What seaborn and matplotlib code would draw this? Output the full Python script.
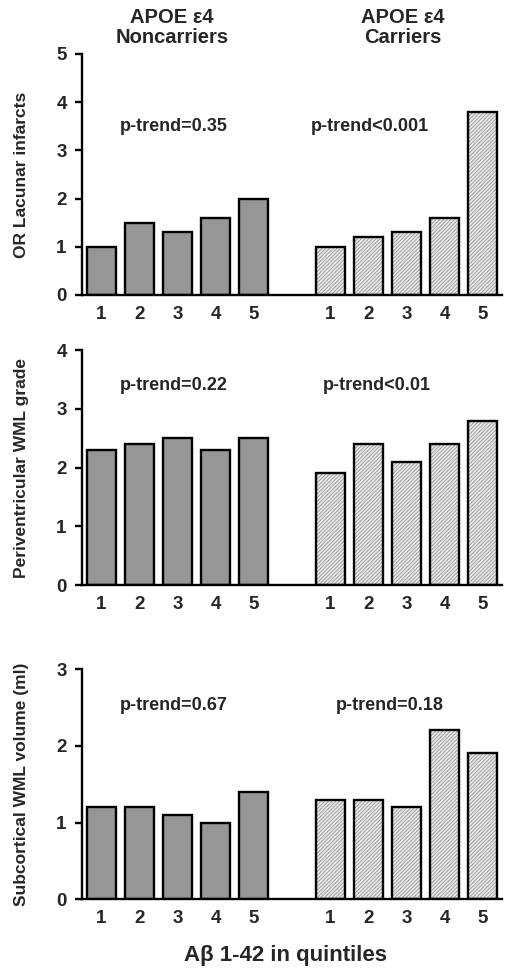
import matplotlib
matplotlib.use("Agg")
import matplotlib.pyplot as plt
import seaborn as sns
import pandas as pd

quintiles = ["1", "2", "3", "4", "5"]
groups = ["Noncarriers", "Carriers"]

lacunar_non = [1.0, 1.5, 1.3, 1.6, 2.0]
lacunar_car = [1.0, 1.2, 1.3, 1.6, 3.8]
pv_non = [2.3, 2.4, 2.5, 2.3, 2.5]
pv_car = [1.9, 2.4, 2.1, 2.4, 2.8]
sc_non = [1.2, 1.2, 1.1, 1.0, 1.4]
sc_car = [1.3, 1.3, 1.2, 2.2, 1.9]

ylabels = ["OR Lacunar infarcts", "Periventricular WML grade", "Subcortical WML volume (ml)"]
ymaxes = [5, 4, 3]
ptexts = [("p-trend=0.35", "p-trend<0.001"),
          ("p-trend=0.22", "p-trend<0.01"),
          ("p-trend=0.67", "p-trend=0.18")]
titles = ["APOE \u03b54\nNoncarriers", "APOE \u03b54\nCarriers"]
xlabel = "A\u03b2 1-42 in quintiles"

sns.set_style("white")
plt.rcParams['font.family'] = ['Liberation Sans', 'DejaVu Sans']
plt.rcParams['font.weight'] = 'bold'
plt.rcParams['hatch.linewidth'] = 0.5

fig = plt.figure(figsize=(5.07, 9.71), dpi=100)

ax_rects = [
    [0.1617, 0.6962, 0.8284, 0.2482],
    [0.1617, 0.3975, 0.8284, 0.2420],
    [0.1617, 0.0738, 0.8284, 0.2372],
]
ptext_y = [3.49, 3.40, 2.53]
ptext_x = [(1.9, 7.05), (1.9, 7.23), (1.9, 7.55)]

order = [f"N{q}" for q in quintiles] + ["gap"] + [f"C{q}" for q in quintiles]
tick_labels = quintiles + [""] + quintiles

panels = [(lacunar_non, lacunar_car), (pv_non, pv_car), (sc_non, sc_car)]

for i, (non, car) in enumerate(panels):
    ax = fig.add_axes(ax_rects[i])
    df = pd.DataFrame({
        "cat": [f"N{q}" for q in quintiles] + [f"C{q}" for q in quintiles],
        "val": list(non) + list(car),
        "grp": [groups[0]] * 5 + [groups[1]] * 5,
    })
    sns.barplot(data=df, x="cat", y="val", order=order, hue="grp",
                palette={"Noncarriers": "#969696", "Carriers": "#e6e6e6"},
                width=0.76, dodge=False, legend=False, ax=ax,
                edgecolor="black", linewidth=1.7, errorbar=None)
    for p in ax.patches:
        fc = p.get_facecolor()
        if fc[0] > 0.8:
            p.set_hatch("/////////")
            p.set_edgecolor("#8c8c8c")
            p.set_linewidth(0)
    # outline layer for the carriers
    sns.barplot(data=df[df.grp == "Carriers"], x="cat", y="val", order=order,
                width=0.76, fill=False, color="black", linewidth=1.7,
                ax=ax, errorbar=None)
    for p in ax.patches:
        if p.get_fill() is False:
            p.set_edgecolor("black")
            p.set_hatch(None)

    ax.set_xlim(-0.5, 10.5)
    ax.set_ylim(0, ymaxes[i])
    ax.set_yticks(range(0, ymaxes[i] + 1))
    ax.set_xticks(range(len(order)))
    ax.set_xticklabels(tick_labels)
    ax.set_xlabel("")
    ax.set_ylabel(ylabels[i], fontsize=12.5, fontweight='bold')
    ax.yaxis.set_label_coords(-0.125, 0.5)
    sns.despine(ax=ax)
    for s in ["left", "bottom"]:
        ax.spines[s].set_linewidth(1.7)
        ax.spines[s].set_color("black")
    ax.tick_params(axis="y", direction="out", length=5, width=1.7, pad=6,
                   labelsize=13.5, left=True, color="black")
    ax.tick_params(axis="x", length=0, pad=8, labelsize=13.5)
    for lab in ax.get_xticklabels() + ax.get_yticklabels():
        lab.set_fontweight("bold")

    ax.text(ptext_x[i][0], ptext_y[i], ptexts[i][0], ha="center", va="center",
            fontsize=13, fontweight="bold")
    ax.text(ptext_x[i][1], ptext_y[i], ptexts[i][1], ha="center", va="center",
            fontsize=13, fontweight="bold")

    if i == 0:
        ax.text(1.85, 1.03, titles[0], transform=ax.get_xaxis_transform(),
                ha="center", va="bottom", fontsize=14.5, fontweight="bold",
                linespacing=1.05)
        ax.text(7.9, 1.03, titles[1], transform=ax.get_xaxis_transform(),
                ha="center", va="bottom", fontsize=14.5, fontweight="bold",
                linespacing=1.05)

fig.text(286 / 507, 1 - 955 / 971, xlabel, ha="center", va="center",
         fontsize=16, fontweight="bold")

fig.savefig("out.png", dpi=100, facecolor="white")
